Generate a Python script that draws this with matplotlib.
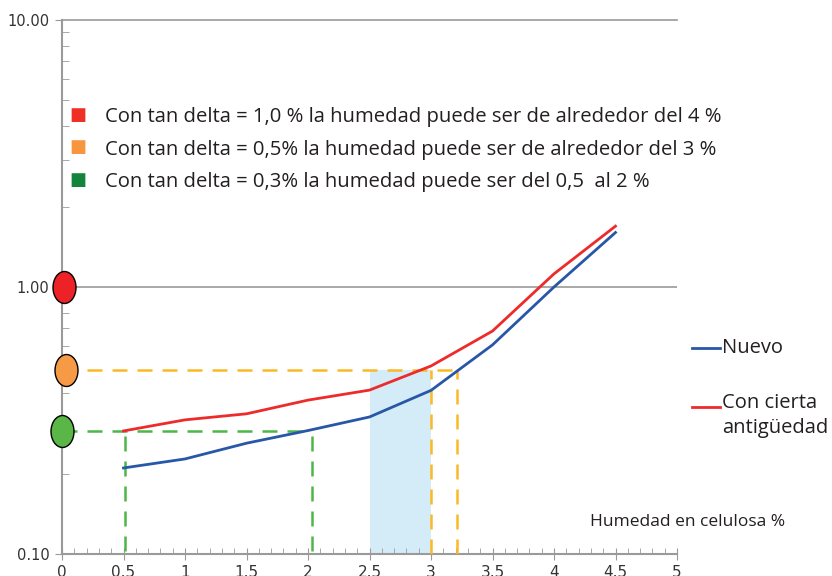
import numpy as np
import matplotlib
matplotlib.use('Agg')
import matplotlib.pyplot as plt
from matplotlib.path import Path
from matplotlib.transforms import Affine2D
from matplotlib.ticker import FixedLocator, LogLocator, MultipleLocator, NullFormatter

# datos
humedad = [0.5, 1.0, 1.5, 2.0, 2.5, 3.0, 3.5, 4.0, 4.5]
nuevo = [0.21, 0.227, 0.26, 0.29, 0.326, 0.41, 0.607, 1.0, 1.6]
antiguo = [0.289, 0.318, 0.335, 0.377, 0.411, 0.506, 0.684, 1.12, 1.69]

tan_delta_vals = [1.0, 0.49, 0.289]
tan_delta_cols = ['#ec2227', '#f79a45', '#5ab646']
square_cols = ['#ee3124', '#f7963f', '#13843c']
notas = ['Con tan delta = 1,0 % la humedad puede ser de alrededor del 4 %',
         'Con tan delta = 0,5% la humedad puede ser de alrededor del 3 %',
         'Con tan delta = 0,3% la humedad puede ser del 0,5  al 2 %']

naranja_y = 0.49
naranja_x = [3.0, 3.21]
verde_y = 0.289
verde_x = [0.51, 2.03]
zona = [2.5, 3.0]

xticks = [0, 0.5, 1, 1.5, 2, 2.5, 3, 3.5, 4, 4.5, 5]
xlabels = ['0', '0.5', '1', '1.5', '2', '2.5', '3', '3.5', '4', '4.5', '5']

plt.rcParams['font.family'] = ['Open Sans', 'DejaVu Sans']
txt_col = '#231f20'

fig = plt.figure(figsize=(8.32, 5.76), dpi=100)
ax = fig.add_axes([62 / 832, 22 / 576, 615 / 832, 534 / 576])
ax.set_yscale('log')
ax.set_xlim(0, 5)
ax.set_ylim(0.1, 10)

# zona sombreada
ax.fill_between(zona, 0.1, naranja_y, color='#d4ecf7', zorder=1, linewidth=0)

# líneas de referencia
ax.axhline(1, color='#9a9a9a', lw=1.2, zorder=0)
ax.axhline(10, color='#9a9a9a', lw=1.2, zorder=0, clip_on=False)

dash = dict(lw=1.8, dashes=(6, 4), zorder=3)
ax.plot([0, naranja_x[1]], [naranja_y, naranja_y], color='#fbb928', **dash)
for xv in naranja_x:
    ax.plot([xv, xv], [0.1, naranja_y], color='#fbb928', **dash)
ax.plot([0, verde_x[1]], [verde_y, verde_y], color='#4cb748', **dash)
for xv in verde_x:
    ax.plot([xv, xv], [0.103, verde_y], color='#4cb748', **dash)

ax.plot(humedad, nuevo, color='#2757a6', lw=2, zorder=4)
ax.plot(humedad, antiguo, color='#ee2b2b', lw=2, zorder=4)

# marcadores elípticos en el eje
ellipse = Path.unit_circle().transformed(Affine2D().scale(0.72, 1.0))
for yv, c, dx in zip(tan_delta_vals, tan_delta_cols, [0.02, 0.03, 0.0]):
    ax.plot([dx], [yv], marker=ellipse, ms=23, color=c, mec='black', mew=1.0,
            clip_on=False, zorder=6, ls='none')

# ejes
for s in ['top', 'right']:
    ax.spines[s].set_visible(False)
for s in ['left', 'bottom']:
    ax.spines[s].set_color('#9a9a9a')
    ax.spines[s].set_linewidth(1.5)

ax.yaxis.set_major_locator(FixedLocator([0.1, 1, 10]))
ax.yaxis.set_minor_locator(LogLocator(base=10, subs=np.arange(2, 10)))
ax.yaxis.set_minor_formatter(NullFormatter())
ax.set_yticklabels(['0.10', '1.00', '10.00'])
ax.set_xticks(xticks)
ax.set_xticklabels(xlabels)
ax.xaxis.set_minor_locator(MultipleLocator(0.1))

ax.tick_params(axis='y', which='major', direction='out', length=5, color='#9a9a9a',
               labelsize=10.5, labelcolor='#333333', pad=4)
ax.tick_params(axis='y', which='minor', direction='in', length=5, color='#9a9a9a')
ax.tick_params(axis='x', which='major', direction='inout', length=8, color='#9a9a9a',
               labelsize=11, labelcolor='#333333', pad=4)
ax.tick_params(axis='x', which='minor', direction='in', length=4, color='#9a9a9a')
for lab in ax.get_xticklabels() + ax.get_yticklabels():
    lab.set_fontfamily(['Liberation Sans Narrow', 'DejaVu Sans'])

# notas superiores
for i, (txt, c) in enumerate(zip(notas, square_cols)):
    yy = 117 + i * 32.5
    fig.text(78 / 832, 1 - (yy - 2) / 576, '\u25A0', color=c, fontsize=13,
             va='center', ha='center', family='DejaVu Sans')
    fig.text(105 / 832, 1 - yy / 576, txt, color=txt_col, fontsize=14.6, va='center')

fig.text(785 / 832, 1 - 522 / 576, 'Humedad en celulosa %', ha='right', va='center',
         fontsize=12.5, color=txt_col)

# leyenda a la derecha
fig.add_artist(plt.Line2D([692 / 832, 720 / 832], [1 - 348 / 576] * 2, color='#2757a6', lw=2))
fig.text(722 / 832, 1 - 348 / 576, 'Nuevo', fontsize=14.5, va='center', color=txt_col)
fig.add_artist(plt.Line2D([692 / 832, 720 / 832], [1 - 407 / 576] * 2, color='#ee2b2b', lw=2))
fig.text(722 / 832, 1 - 403 / 576, 'Con cierta', fontsize=14.5, va='center', color=txt_col)
fig.text(722 / 832, 1 - 428 / 576, 'antigüedad', fontsize=14.5, va='center', color=txt_col)

fig.savefig('out.png', dpi=100)
